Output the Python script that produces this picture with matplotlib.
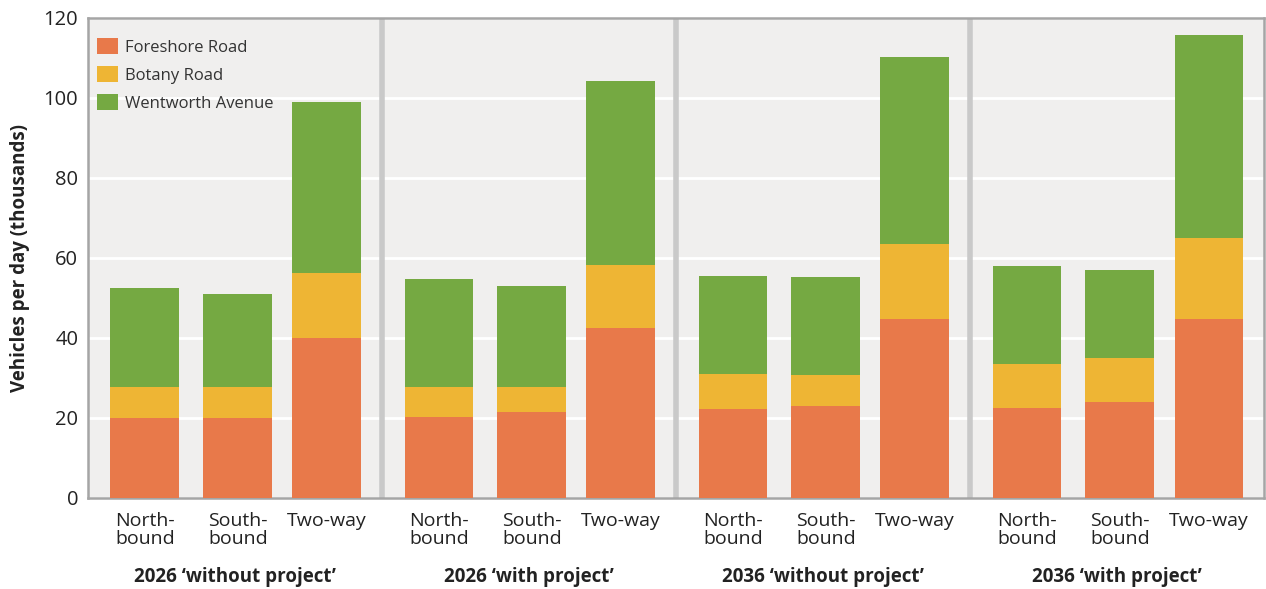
import matplotlib.pyplot as plt
from matplotlib.transforms import blended_transform_factory
import numpy as np

plt.rcParams['font.family'] = ['Open Sans', 'DejaVu Sans']

scenarios = ["2026 \u2018without project\u2019", "2026 \u2018with project\u2019",
             "2036 \u2018without project\u2019", "2036 \u2018with project\u2019"]
directions = ["North-\nbound", "South-\nbound", "Two-way"]

# thousands of vehicles per day, per scenario: northbound, southbound, two-way
foreshore = [19.9, 19.9, 39.9,
             20.2, 21.4, 42.4,
             22.3, 22.9, 44.7,
             22.5, 23.9, 44.7]
botany = [7.9, 7.9, 16.3,
          7.6, 6.4, 15.9,
          8.6, 7.8, 18.7,
          11.0, 11.0, 20.2]
wentworth = [24.6, 23.1, 42.9,
             27.0, 25.2, 46.0,
             24.6, 24.5, 46.8,
             24.4, 22.1, 50.8]

colors = ["#E8794A", "#EEB534", "#75A942"]
bg = "#F0EFEE"
text_col = "#222222"

fig = plt.figure(figsize=(12.66, 5.89), dpi=100)
ax = fig.add_axes([0.0695, 0.1545, 0.929, 0.815])
ax.set_facecolor(bg)

group_w = 3.2
offsets = np.array([0.62, 1.63, 2.6])
x = np.concatenate([g * group_w + offsets for g in range(len(scenarios))])
width = 0.75

f = np.array(foreshore)
b = np.array(botany)
w = np.array(wentworth)
ax.bar(x, f, width, color=colors[0], label="Foreshore Road", zorder=3)
ax.bar(x, b, width, bottom=f, color=colors[1], label="Botany Road", zorder=3)
ax.bar(x, w, width, bottom=f + b, color=colors[2], label="Wentworth Avenue", zorder=3)

ax.set_xlim(0, group_w * len(scenarios))
ax.set_ylim(0, 120)
ax.set_yticks(range(0, 121, 20))
ax.yaxis.grid(True, color="white", linewidth=2, zorder=1)
ax.set_axisbelow(True)

# grey dividers between the scenario groups
for g in range(1, len(scenarios)):
    ax.axvline(g * group_w, color="#C9C9C9", linewidth=4, zorder=2)

ax.set_xticks(x)
ax.set_xticklabels(directions * len(scenarios), fontsize=14, linespacing=1.0,
                   color=text_col)
ax.tick_params(axis="both", length=0)
ax.tick_params(axis="x", pad=10)
ax.tick_params(axis="y", pad=7, labelsize=14.5, labelcolor=text_col)

for side in ["left", "bottom", "top", "right"]:
    ax.spines[side].set_color("#A5A5A5")
    ax.spines[side].set_linewidth(1.8)

ax.set_ylabel("Vehicles per day (thousands)", fontsize=13.5, fontweight="bold",
              labelpad=10, color=text_col)

trans = blended_transform_factory(ax.transData, fig.transFigure)
for g, name in enumerate(scenarios):
    ax.text(g * group_w + group_w / 2, 0.02, name, transform=trans, ha="center",
            va="center", fontsize=13.5, fontweight="bold", color=text_col)

leg = ax.legend(loc="upper left", bbox_to_anchor=(-0.005, 0.99), frameon=False,
                fontsize=12, handlelength=1.25, handleheight=1.15,
                handletextpad=0.45, labelspacing=0.6)
for t in leg.get_texts():
    t.set_color("#333333")

fig.savefig("out.png", dpi=100)
